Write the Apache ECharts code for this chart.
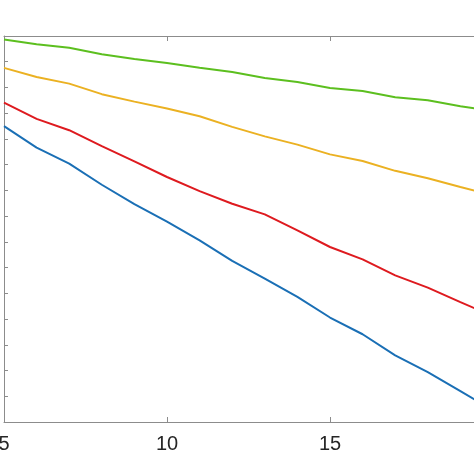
<!DOCTYPE html>
<html>
<head>
<meta charset="utf-8">
<script src="https://cdn.jsdelivr.net/npm/echarts@6/dist/echarts.min.js"></script>
<style>
html,body{margin:0;padding:0;background:#fff;}
#chart{width:474px;height:474px;}
</style>
</head>
<body>
<div id="chart"></div>
<script>
const xValues = [5,6,7,8,9,10,11,12,13,14,15,16,17,18,19,20];
const greenSeries  = [14.86,14.68,14.54,14.29,14.11,13.95,13.77,13.60,13.37,13.21,12.98,12.86,12.62,12.50,12.27,12.08];
const orangeSeries = [13.76,13.41,13.15,12.74,12.45,12.18,11.88,11.47,11.10,10.78,10.40,10.14,9.76,9.47,9.13,8.81];
const redSeries    = [12.41,11.78,11.34,10.72,10.13,9.52,8.97,8.48,8.07,7.45,6.80,6.32,5.70,5.22,4.66,4.11];
const blueSeries   = [11.50,10.66,10.04,9.22,8.47,7.79,7.06,6.26,5.57,4.86,4.06,3.41,2.59,1.94,1.20,0.45];

const pairs = arr => xValues.map((x, i) => [x, arr[i]]);
const axisGray = '#8c8c8c';

const chart = echarts.init(document.getElementById('chart'), null, {renderer: 'canvas'});
const mkLine = (data, color) => ({
  type: 'line', data: pairs(data), symbol: 'none', smooth: false,
  lineStyle: {color: color, width: 2}, itemStyle: {color: color}, animation: false
});
chart.setOption({
  animation: false,
  backgroundColor: '#ffffff',
  grid: {left: 4, top: 36, width: 489, height: 386, containLabel: false, outerBoundsMode: 'none'},
  xAxis: [
    {type: 'value', position: 'bottom', min: 5, max: 20, interval: 5,
     axisLine: {show: true, lineStyle: {color: axisGray, width: 1}},
     axisTick: {show: true, inside: true, length: 5, lineStyle: {color: axisGray}},
     axisLabel: {show: true, fontSize: 20, color: '#262626', margin: 12, fontFamily: 'Liberation Sans, Arial, sans-serif', showMinLabel: true},
     splitLine: {show: false}},
    {type: 'value', position: 'top', min: 5, max: 20, interval: 5,
     axisLine: {show: true, onZero: false, lineStyle: {color: axisGray, width: 1}},
     axisTick: {show: true, inside: true, length: 5, lineStyle: {color: axisGray}},
     axisLabel: {show: false}, splitLine: {show: false}}
  ],
  yAxis: [
    {type: 'value', position: 'left', min: 0, max: 15, interval: 1,
     axisLine: {show: true, onZero: false, lineStyle: {color: axisGray, width: 1}},
     axisTick: {show: true, inside: true, length: 4, lineStyle: {color: axisGray}},
     axisLabel: {show: false}, splitLine: {show: false}}
  ],
  series: [
    mkLine(greenSeries, '#5cbf1f'),
    mkLine(orangeSeries, '#ebb122'),
    mkLine(redSeries, '#de1a1f'),
    mkLine(blueSeries, '#1a6fb5')
  ]
});
</script>
</body>
</html>
